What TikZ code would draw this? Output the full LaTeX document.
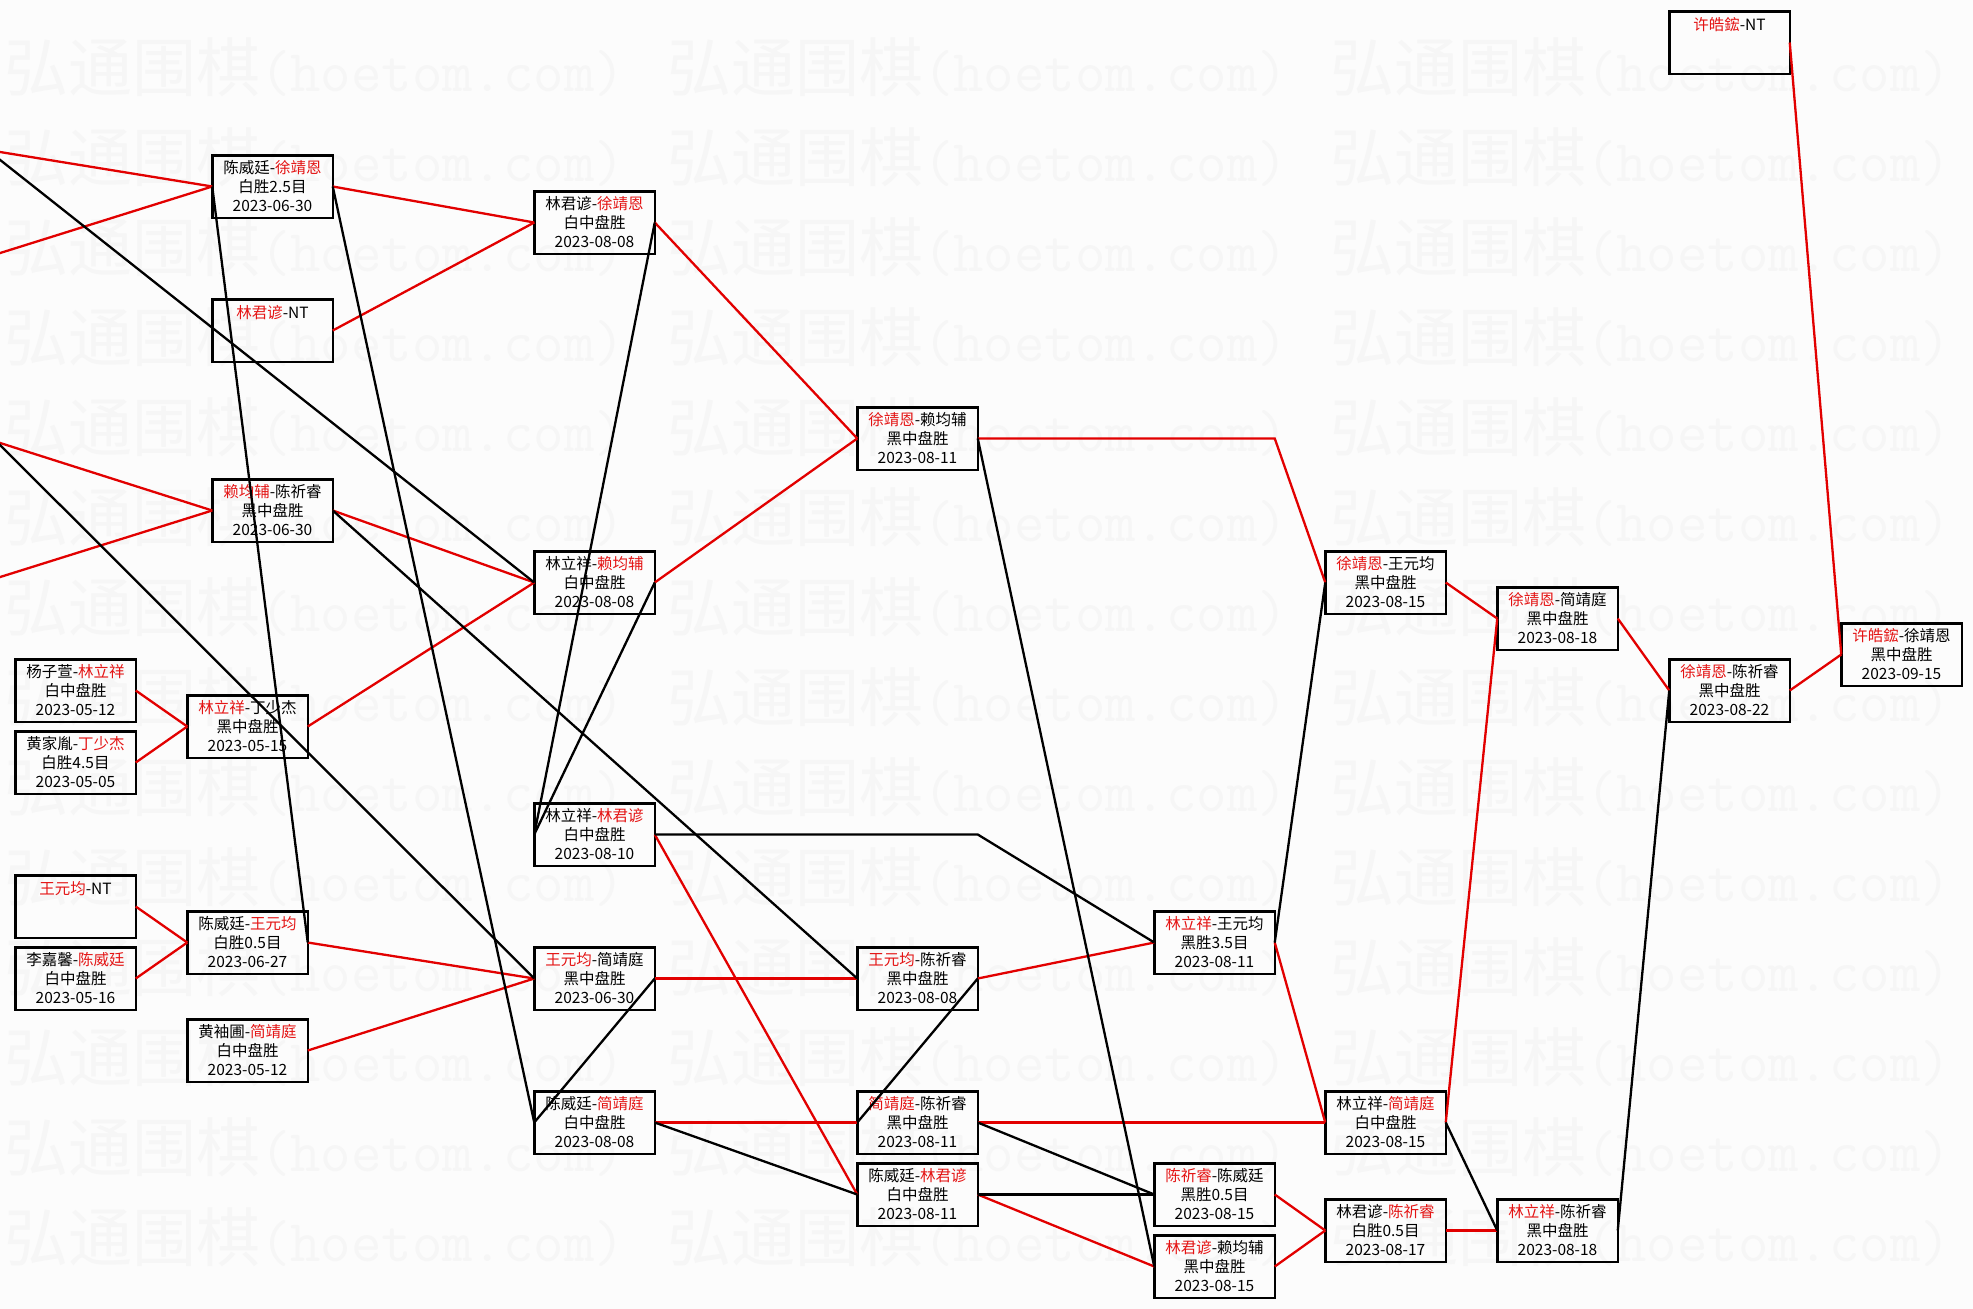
\documentclass[tikz,border=0pt]{standalone}
\usepackage{fontspec}
\newfontfamily\cjk{Noto Sans CJK SC}
\definecolor{wred}{RGB}{228,20,20}
\definecolor{lred}{RGB}{226,0,0}
\definecolor{bgc}{RGB}{252,252,252}
\definecolor{wmc}{RGB}{246,246,246}
\newcommand\W[1]{\textcolor{wred}{#1}}
\begin{document}
\begin{tikzpicture}[x=1pt,y=-1pt,
  game/.style={draw=black, line width=2.5pt, minimum width=120.5pt, minimum height=62.5pt,
    inner sep=0pt, outer sep=0pt, align=center, font=\cjk\fontsize{15.5}{19}\selectfont},
  win/.style={draw=lred, line width=2.3pt},
  lose/.style={draw=black, line width=2.3pt},
  wm/.style={text=wmc, anchor=west, inner sep=0pt}]
\useasboundingbox (0,0) rectangle (1973,1309);
\clip (0,0) rectangle (1973,1309);
\fill[bgc] (0,0) rectangle (1973,1309);
% watermark
\foreach \j in {0,...,13}{
  \foreach \k in {0,1,2}{
    \node[wm] (wm-\j-\k) at ({4+663*\k},{67+90*\j})
      {{\cjk\fontsize{64}{64}\selectfont 弘通围棋}{\ttfamily\fontsize{59}{64}\selectfont (hoetom.com)}};
  }
}
% column 1
\node[game] (n1) at (75.5,690.5) {杨子萱-\W{林立祥}\\白中盘胜\\2023-05-12};
\node[game] (n2) at (75.5,762.5) {黄家胤-\W{丁少杰}\\白胜4.5目\\2023-05-05};
\node[game] (n3) at (75.5,906.5) {\W{王元均}-NT\\\mbox{}\\\mbox{}};
\node[game] (n4) at (75.5,978.5) {李嘉馨-\W{陈威廷}\\白中盘胜\\2023-05-16};
% column 2
\node[game] (n5) at (272.5,186.5) {陈威廷-\W{徐靖恩}\\白胜2.5目\\2023-06-30};
\node[game] (n6) at (272.5,330.5) {\W{林君谚}-NT\\\mbox{}\\\mbox{}};
\node[game] (n7) at (272.5,510.5) {\W{赖均辅}-陈祈睿\\黑中盘胜\\2023-06-30};
\node[game] (n8) at (247.5,726.5) {\W{林立祥}-丁少杰\\黑中盘胜\\2023-05-15};
\node[game] (n9) at (247.5,942.5) {陈威廷-\W{王元均}\\白胜0.5目\\2023-06-27};
\node[game] (n10) at (247.5,1050.5) {黄袖圃-\W{简靖庭}\\白中盘胜\\2023-05-12};
% column 3
\node[game] (n11) at (594.5,222.5) {林君谚-\W{徐靖恩}\\白中盘胜\\2023-08-08};
\node[game] (n12) at (594.5,582.5) {林立祥-\W{赖均辅}\\白中盘胜\\2023-08-08};
\node[game] (n13) at (594.5,834.5) {林立祥-\W{林君谚}\\白中盘胜\\2023-08-10};
\node[game] (n14) at (594.5,978.5) {\W{王元均}-简靖庭\\黑中盘胜\\2023-06-30};
\node[game] (n15) at (594.5,1122.5) {陈威廷-\W{简靖庭}\\白中盘胜\\2023-08-08};
% column 4
\node[game] (n16) at (917.5,438.5) {\W{徐靖恩}-赖均辅\\黑中盘胜\\2023-08-11};
\node[game] (n17) at (917.5,978.5) {\W{王元均}-陈祈睿\\黑中盘胜\\2023-08-08};
\node[game] (n18) at (917.5,1122.5) {\W{简靖庭}-陈祈睿\\黑中盘胜\\2023-08-11};
\node[game] (n19) at (917.5,1194.5) {陈威廷-\W{林君谚}\\白中盘胜\\2023-08-11};
% column 5
\node[game] (n20) at (1214.5,942.5) {\W{林立祥}-王元均\\黑胜3.5目\\2023-08-11};
\node[game] (n21) at (1214.5,1194.5) {\W{陈祈睿}-陈威廷\\黑胜0.5目\\2023-08-15};
\node[game] (n22) at (1214.5,1266.5) {\W{林君谚}-赖均辅\\黑中盘胜\\2023-08-15};
% column 6
\node[game] (n23) at (1385.5,582.5) {\W{徐靖恩}-王元均\\黑中盘胜\\2023-08-15};
\node[game] (n24) at (1385.5,1122.5) {林立祥-\W{简靖庭}\\白中盘胜\\2023-08-15};
\node[game] (n25) at (1385.5,1230.5) {林君谚-\W{陈祈睿}\\白胜0.5目\\2023-08-17};
% column 7
\node[game] (n26) at (1557.5,618.5) {\W{徐靖恩}-简靖庭\\黑中盘胜\\2023-08-18};
\node[game] (n27) at (1557.5,1230.5) {\W{林立祥}-陈祈睿\\黑中盘胜\\2023-08-18};
% column 8
\node[game] (n28) at (1729.5,42.5) {\W{许皓鋐}-NT\\\mbox{}\\\mbox{}};
\node[game] (n29) at (1729.5,690.5) {\W{徐靖恩}-陈祈睿\\黑中盘胜\\2023-08-22};
% column 9
\node[game] (n30) at (1901.5,654.5) {\W{许皓鋐}-徐靖恩\\黑中盘胜\\2023-09-15};
% off-picture ends and bends
\coordinate (A) at (-40,145.5);
\coordinate (B) at (-40,265.6);
\coordinate (C) at (-40,128.2);
\coordinate (D) at (-40,430.2);
\coordinate (E) at (-40,589.6);
\coordinate (F) at (-40,405);
\coordinate (bend1) at (n20.east |- n16.east);
\coordinate (bend2) at (n17.east |- n13.east);
% winners (red)
\draw[win] (A) -- (n5.west);
\draw[win] (B) -- (n5.west);
\draw[win] (D) -- (n7.west);
\draw[win] (E) -- (n7.west);
\draw[win] (n5.east) -- (n11.west);
\draw[win] (n6.east) -- (n11.west);
\draw[win] (n7.east) -- (n12.west);
\draw[win] (n8.east) -- (n12.west);
\draw[win] (n1.east) -- (n8.west);
\draw[win] (n2.east) -- (n8.west);
\draw[win] (n3.east) -- (n9.west);
\draw[win] (n4.east) -- (n9.west);
\draw[win] (n9.east) -- (n14.west);
\draw[win] (n10.east) -- (n14.west);
\draw[win] (n11.east) -- (n16.west);
\draw[win] (n12.east) -- (n16.west);
\draw[win] (n14.east) -- (n17.west);
\draw[win] (n15.east) -- (n18.west);
\draw[win] (n13.east) -- (n19.west);
\draw[win] (n16.east) -- (bend1) -- (n23.west);
\draw[win] (n17.east) -- (n20.west);
\draw[win] (n20.east) -- (n24.west);
\draw[win] (n18.east) -- (n24.west);
\draw[win] (n19.east) -- (n22.west);
\draw[win] (n21.east) -- (n25.west);
\draw[win] (n22.east) -- (n25.west);
\draw[win] (n23.east) -- (n26.west);
\draw[win] (n24.east) -- (n26.west);
\draw[win] (n25.east) -- (n27.west);
\draw[win] (n26.east) -- (n29.west);
\draw[win] (n29.east) -- (n30.west);
\draw[win] (n28.east) -- (n30.west);
% losers (black)
\draw[lose] (C) -- (n12.west);
\draw[lose] (F) -- (n14.west);
\draw[lose] (n7.east) -- (n17.west);
\draw[lose] (n9.east) -- (n5.west);
\draw[lose] (n5.east) -- (n15.west);
\draw[lose] (n11.east) -- (n13.west);
\draw[lose] (n12.east) -- (n13.west);
\draw[lose] (n14.east) -- (n15.west);
\draw[lose] (n13.east) -- (bend2) -- (n20.west);
\draw[lose] (n17.east) -- (n18.west);
\draw[lose] (n15.east) -- (n19.west);
\draw[lose] (n16.east) -- (n22.west);
\draw[lose] (n20.east) -- (n23.west);
\draw[lose] (n18.east) -- (n21.west);
\draw[lose] (n19.east) -- (n21.west);
\draw[lose] (n24.east) -- (n27.west);
\draw[lose] (n27.east) -- (n29.west);
\end{tikzpicture}
\end{document}
